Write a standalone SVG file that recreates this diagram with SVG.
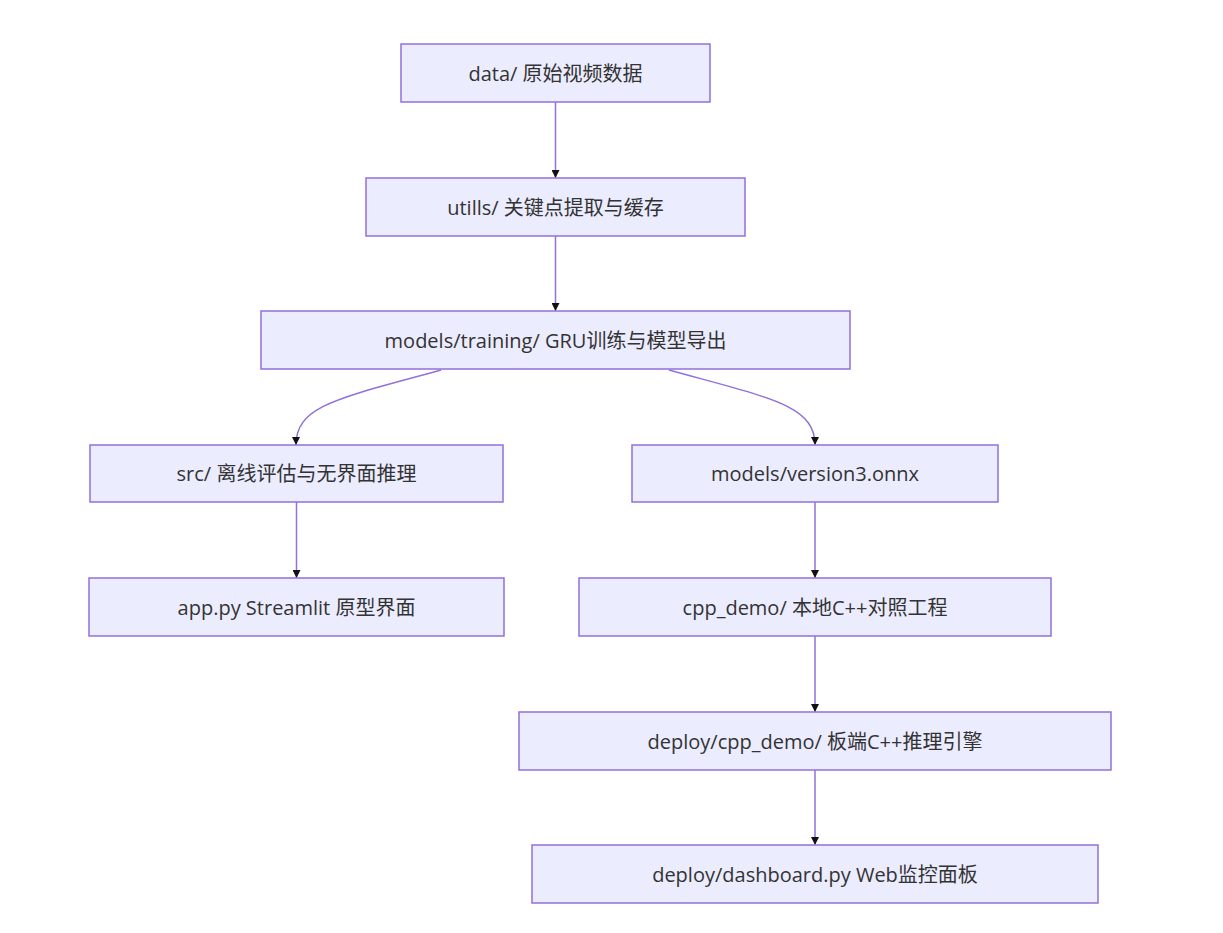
<svg xmlns="http://www.w3.org/2000/svg" width="1223" height="933" viewBox="0 0 1223 933">
<style>
.n rect{fill:#ECECFF;stroke:#9370DB;stroke-width:1.5}
.n text{font-family:"Open Sans","Noto Sans CJK SC",sans-serif;font-size:20px;fill:#333;text-anchor:middle;dominant-baseline:central}
.e path{fill:none;stroke:#9370DB;stroke-width:1.5;marker-end:url(#a)}
</style>
<defs><marker id="a" viewBox="0 0 10 10" refX="10" refY="5" markerWidth="8" markerHeight="8" markerUnits="userSpaceOnUse" orient="auto"><path d="M0,0L10,5L0,10z" fill="#111"/></marker></defs>
<rect width="1223" height="933" fill="#fff"/>
<g class="e">
<path d="M555.5,102V178"/>
<path d="M555.5,236V311"/>
<path d="M441,370C340,398 296,405 296,445"/>
<path d="M669,370C770,398 815,405 815,445"/>
<path d="M296.5,502V578"/>
<path d="M815,502V578"/>
<path d="M815,636V712"/>
<path d="M815,770V845"/>
</g>
<g id="n1" class="n"><rect x="401" y="44" width="309" height="58"/><text x="555.5" y="73">data/ 原始视频数据</text></g>
<g id="n2" class="n"><rect x="366" y="178" width="379" height="58"/><text x="555.5" y="207">utills/ 关键点提取与缓存</text></g>
<g id="n3" class="n"><rect x="261" y="311" width="589" height="58"/><text x="555.5" y="340">models/training/ GRU训练与模型导出</text></g>
<g id="n4" class="n"><rect x="90" y="445" width="413" height="57"/><text x="296.5" y="473">src/ 离线评估与无界面推理</text></g>
<g id="n5" class="n"><rect x="632" y="445" width="366" height="57"/><text x="815" y="473">models/version3.onnx</text></g>
<g id="n6" class="n"><rect x="89" y="578" width="415" height="58"/><text x="296.5" y="607">app.py Streamlit 原型界面</text></g>
<g id="n7" class="n"><rect x="579" y="578" width="472" height="58"/><text x="815" y="607">cpp_demo/ 本地C++对照工程</text></g>
<g id="n8" class="n"><rect x="519" y="712" width="592" height="58"/><text x="815" y="741">deploy/cpp_demo/ 板端C++推理引擎</text></g>
<g id="n9" class="n"><rect x="532" y="845" width="566" height="58"/><text x="815" y="874">deploy/dashboard.py Web监控面板</text></g>
</svg>
